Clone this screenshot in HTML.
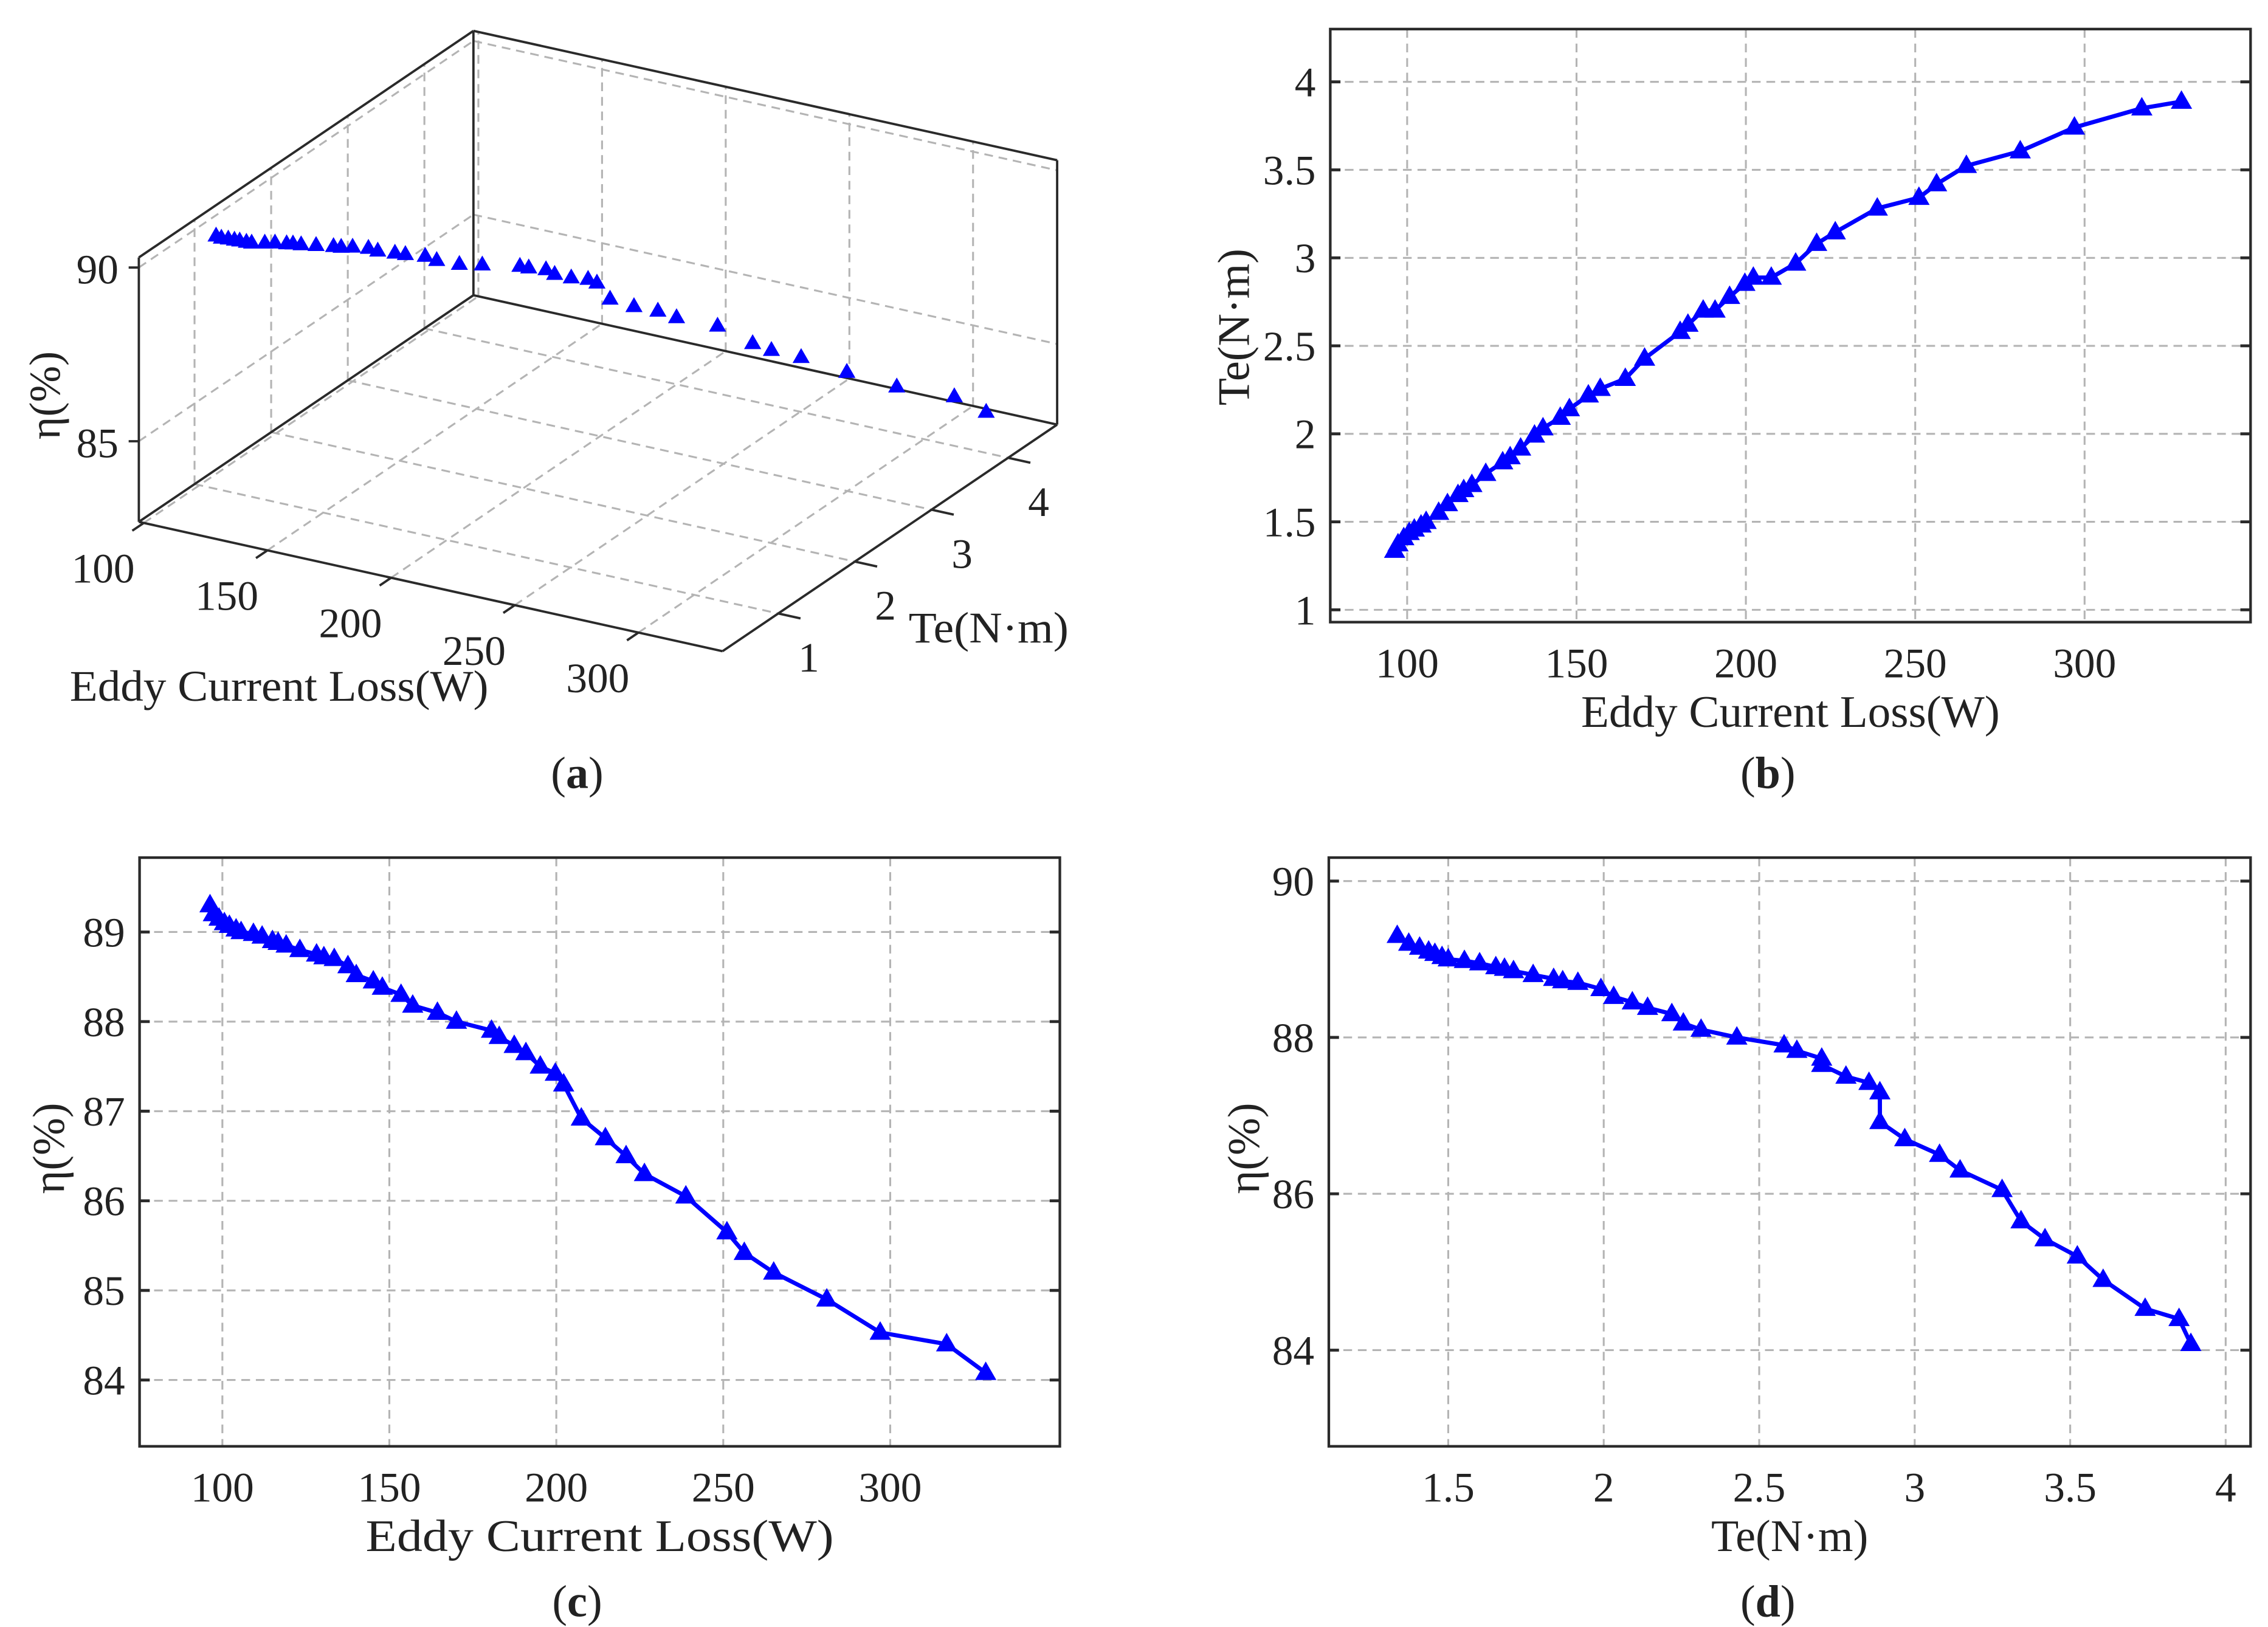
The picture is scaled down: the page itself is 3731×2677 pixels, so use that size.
<!DOCTYPE html>
<html><head><meta charset="utf-8"><style>
html,body{margin:0;padding:0;background:#fff;}
svg{display:block;font-family:"Liberation Serif",serif;}
</style></head><body>
<svg id="fig" xmlns="http://www.w3.org/2000/svg" width="3731" height="2677" viewBox="0 0 1560 1119.3">
<rect x="0" y="0" width="1560" height="1119.3" fill="#fff"/>
<g id="pa"></g>
<g id="pb"></g>
<g id="pc"></g>
<g id="pd"></g>
</svg>
<script>
const W = [96.3,97.3,99.0,100.6,102.1,104.1,105.6,109.3,111.9,115.0,116.7,119.1,123.2,128.2,130.4,133.5,137.6,140.1,145.2,147.9,153.5,157.0,164.4,170.1,180.6,182.9,187.4,190.9,195.2,199.7,202.2,207.5,214.7,220.9,226.4,238.8,251.1,256.3,265.1,281.0,297.0,316.9,328.6];
const Te = [1.336,1.373,1.408,1.437,1.457,1.480,1.500,1.552,1.601,1.653,1.681,1.710,1.773,1.839,1.868,1.917,1.991,2.032,2.092,2.141,2.219,2.256,2.313,2.428,2.580,2.621,2.701,2.701,2.779,2.853,2.888,2.888,2.968,3.080,3.146,3.281,3.342,3.419,3.523,3.606,3.741,3.850,3.888];
const Eta = [89.3,89.2,89.15,89.1,89.07,89.03,89.0,88.98,88.95,88.9,88.88,88.85,88.8,88.75,88.72,88.7,88.62,88.52,88.45,88.38,88.3,88.18,88.1,88.0,87.9,87.83,87.73,87.65,87.5,87.42,87.3,86.92,86.7,86.5,86.3,86.05,85.65,85.42,85.2,84.9,84.53,84.4,84.08];
const wTicks = [100,150,200,250,300];
const teTicksB = [1,1.5,2,2.5,3,3.5,4];
const etaTicksC = [84,85,86,87,88,89];
const teTicksD = [1.5,2,2.5,3,3.5,4];
const etaTicksD = [84,86,88,90];
const wTicks3 = [100,150,200,250,300];
const teTicks3 = [1,2,3,4];
const etaTicks3 = [85,90];

const NS='http://www.w3.org/2000/svg';
function mk(parent,tag,attrs,text){const e=document.createElementNS(NS,tag);for(const k in attrs)e.setAttribute(k,attrs[k]);if(text!==undefined)e.textContent=text;parent.appendChild(e);return e;}
function lbl(n){return String(n);}
const GRID='#b4b4b4', FRAME='#2a2a2a', TXT='#222', BLUE='#0000ff';
function tri(g,x,y,s){return mk(g,'polygon',{points:`${x},${y-s} ${x-s*0.95},${y+s*0.65} ${x+s*0.95},${y+s*0.65}`,fill:BLUE,stroke:BLUE,'stroke-width':0.8});}

function panel2d(gid,box,xr,yr,xt,yt,xs,ys,xTitle,yTitle,letter,ytx,yty,ltr){
  const g=document.getElementById(gid);
  const X=v=>box.x0+(v-xr[0])/(xr[1]-xr[0])*(box.x1-box.x0);
  const Y=v=>box.y1-(v-yr[0])/(yr[1]-yr[0])*(box.y1-box.y0);
  xt.forEach(v=>{const l=mk(g,'line',{x1:X(v),x2:X(v),y1:box.y0,y2:box.y1,stroke:GRID,'stroke-width':1.3,'stroke-dasharray':'6,4'});
    
    
    const t=mk(g,'text',{x:X(v),y:box.y1+38,'font-size':29,fill:TXT,'text-anchor':'middle'},lbl(v));
    
    });
  yt.forEach(v=>{const l=mk(g,'line',{x1:box.x0,x2:box.x1,y1:Y(v),y2:Y(v),stroke:GRID,'stroke-width':1.3,'stroke-dasharray':'6,4'});
    
    
    mk(g,'line',{x1:box.x0,x2:box.x0+7,y1:Y(v),y2:Y(v),stroke:FRAME,'stroke-width':2});
    mk(g,'line',{x1:box.x1,x2:box.x1-7,y1:Y(v),y2:Y(v),stroke:FRAME,'stroke-width':2});
    const t=mk(g,'text',{x:box.x0-10,y:Y(v)+10,'font-size':29,fill:TXT,'text-anchor':'end'},lbl(v));
    
    });
  const fr=mk(g,'rect',{x:box.x0,y:box.y0,width:box.x1-box.x0,height:box.y1-box.y0,fill:'none',stroke:FRAME,'stroke-width':1.8});
  
  
  const pts=xs.map((v,i)=>X(v)+','+Y(ys[i])).join(' ');
  const pl=mk(g,'polyline',{points:pts,fill:'none',stroke:BLUE,'stroke-width':2.9,'stroke-linejoin':'round'});
  
  
  xs.forEach((v,i)=>{const m=tri(g,X(v),Y(ys[i]),7);
    
    });
  const xtl=mk(g,'text',{x:(box.x0+box.x1)/2,y:box.y1+72,'font-size':31,fill:TXT,'text-anchor':'middle',textLength:xTitle.len,lengthAdjust:'spacingAndGlyphs'},xTitle.t);
  
  
  const ytl=mk(g,'text',{x:0,y:0,'font-size':31,fill:TXT,'text-anchor':'middle',transform:`translate(${ytx},${yty}) rotate(-90)`},yTitle);
  
  
  const c=mk(g,'text',{x:ltr[0],y:ltr[1],'font-size':31,fill:TXT,'text-anchor':'middle'});
  
  
  mk(c,'tspan',{},'(');mk(c,'tspan',{'font-weight':'bold'},letter);mk(c,'tspan',{},')');
}

panel2d('pb',{x0:915,x1:1548,y0:20,y1:428},[77.3,349],[0.93,4.3],wTicks,teTicksB,W,Te,
  {t:'Eddy Current Loss(W)',len:288},'Te(N·m)','b',859,225,[1216,542]);
panel2d('pc',{x0:96,x1:729,y0:590,y1:995},[75.2,350.8],[83.26,89.83],wTicks,etaTicksC,W,Eta,
  {t:'Eddy Current Loss(W)',len:322},'η(%)','c',44,790,[397,1112]);
panel2d('pd',{x0:914,x1:1548,y0:590,y1:995},[1.116,4.08],[82.77,90.3],teTicksD,etaTicksD,Te,Eta,
  {t:'Te(N·m)',len:108},'η(%)','d',866,790,[1216,1112]);

/* 3D panel */
(function(){
  const g=document.getElementById('pa');
  const O=[95.5,359], Wmin=98, Wmax=334, Tmin=0.273, Tmax=4.64, Emin=82.68, Emax=90.29;
  const wv=[401.5/(Wmax-Wmin),89/(Wmax-Wmin)], tv=[52.7,-35.7], ev=23.9;
  const P=(w,t,e)=>[O[0]+(w-Wmin)*wv[0]+(t-Tmin)*tv[0], O[1]+(w-Wmin)*wv[1]+(t-Tmin)*tv[1]-(e-Emin)*ev];
  function ln(a,b,dash,name,col,sw){const l=mk(g,'line',{x1:a[0],y1:a[1],x2:b[0],y2:b[1],stroke:col||GRID,'stroke-width':sw||1.3});if(dash)l.setAttribute('stroke-dasharray','6,4');
    
    return l;}
  wTicks3.forEach(w=>{ln(P(w,Tmax,Emin),P(w,Tmax,Emax),1,'back-wall-w-grid');ln(P(w,Tmin,Emin),P(w,Tmax,Emin),1,'floor-w-grid');});
  teTicks3.forEach(t=>{ln(P(Wmin,t,Emin),P(Wmax,t,Emin),1,'floor-te-grid');ln(P(Wmin,t,Emin),P(Wmin,t,Emax),1,'left-wall-te-grid');});
  etaTicks3.forEach(e=>{ln(P(Wmin,Tmin,e),P(Wmin,Tmax,e),1,'left-wall-eta-grid');ln(P(Wmin,Tmax,e),P(Wmax,Tmax,e),1,'back-wall-eta-grid');});
  const E=[[P(Wmin,Tmin,Emin),P(Wmin,Tmin,Emax)],[P(Wmin,Tmin,Emax),P(Wmin,Tmax,Emax)],[P(Wmin,Tmax,Emax),P(Wmax,Tmax,Emax)],
    [P(Wmax,Tmax,Emax),P(Wmax,Tmax,Emin)],[P(Wmin,Tmax,Emax),P(Wmin,Tmax,Emin)],[P(Wmin,Tmax,Emin),P(Wmax,Tmax,Emin)],
    [P(Wmin,Tmax,Emin),P(Wmin,Tmin,Emin)],[P(Wmin,Tmin,Emin),P(Wmax,Tmin,Emin)],[P(Wmax,Tmin,Emin),P(Wmax,Tmax,Emin)]];
  E.forEach(e=>ln(e[0],e[1],0,'box-edge',FRAME,1.6));
  wTicks3.forEach(w=>{const a=P(w,Tmin,Emin),b=P(w,Tmin-0.15,Emin);ln(a,b,0,'w-tick',FRAME,1.6);
    const t=mk(g,'text',{x:a[0]-28,y:a[1]+41,'font-size':29,fill:TXT,'text-anchor':'middle'},lbl(w));
    
    });
  teTicks3.forEach(tv2=>{const a=P(Wmax,tv2,Emin),b=P(Wmax+9,tv2,Emin);ln(a,b,0,'te-tick',FRAME,1.6);
    const t=mk(g,'text',{x:a[0]+21,y:a[1]+40,'font-size':29,fill:TXT,'text-anchor':'middle'},lbl(tv2));
    
    });
  etaTicks3.forEach(e=>{const a=P(Wmin,Tmin,e);ln(a,[a[0]-7,a[1]],0,'eta-tick',FRAME,1.6);
    const t=mk(g,'text',{x:a[0]-14,y:a[1]+11,'font-size':29,fill:TXT,'text-anchor':'end'},lbl(e));
    
    });
  W.forEach((w,i)=>{const p=P(w,Te[i],Eta[i]);const m=tri(g,p[0],p[1],5.5);
    
    });
  const t1=mk(g,'text',{x:192,y:482,'font-size':30,fill:TXT,'text-anchor':'middle',textLength:288,lengthAdjust:'spacingAndGlyphs'},'Eddy Current Loss(W)');
  
  
  const t2=mk(g,'text',{x:680,y:442,'font-size':30,fill:TXT,'text-anchor':'middle',textLength:110,lengthAdjust:'spacingAndGlyphs'},'Te(N·m)');
  
  
  const t3=mk(g,'text',{x:0,y:0,'font-size':30,fill:TXT,'text-anchor':'middle',transform:'translate(41,272) rotate(-90)'},'η(%)');
  
  
  const c=mk(g,'text',{x:397,y:542,'font-size':31,fill:TXT,'text-anchor':'middle'});
  
  
  mk(c,'tspan',{},'(');mk(c,'tspan',{'font-weight':'bold'},'a');mk(c,'tspan',{},')');
})();
</script>
</body></html>
